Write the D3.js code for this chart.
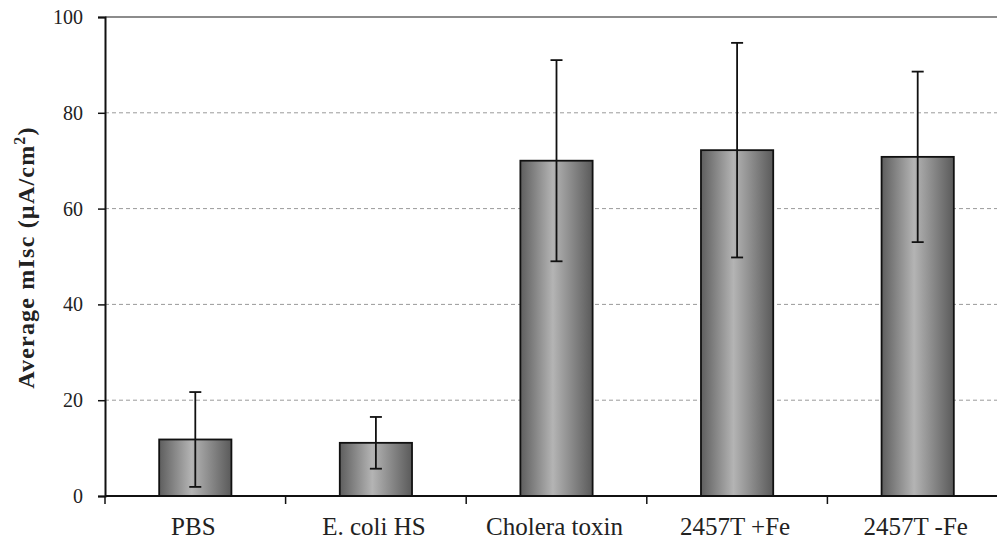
<!DOCTYPE html>
<html>
<head>
<meta charset="utf-8">
<script src="https://cdn.jsdelivr.net/npm/d3@7"></script>
<style>
  body { margin: 0; background: #fff; }
  svg text { font-family: "Liberation Serif", "Times New Roman", serif; }
</style>
</head>
<body>
<div id="chart"></div>
<script>
const fig_width = 997
const fig_height = 540

// values
const categories = ["PBS", "E. coli HS", "Cholera toxin", "2457T +Fe", "2457T -Fe"]
const means = [11.8, 11.1, 70.0, 72.2, 70.8]
const errors = [9.9, 5.4, 21.0, 22.4, 17.8]
const y_ticks = [0, 20, 40, 60, 80, 100]

const margin = {left: 105, top: 17, bottom: 44}
const band = 180.6

let x = d3.scaleBand()
    .domain(categories)
    .range([margin.left, margin.left + band * categories.length])
    .paddingInner(0.6)
    .paddingOuter(0.3)

let y = d3.scaleLinear()
    .domain([0, 100])
    .range([fig_height - margin.bottom, margin.top])

let fig = d3.select("#chart")
    .append("svg")
    .attr("width", fig_width)
    .attr("height", fig_height)

// horizontal gradient for the bars: dark edges, light middle
let grad = fig.append("defs").append("linearGradient")
    .attr("id", "barfill")
    .attr("x1", "0%").attr("x2", "100%")
    .attr("y1", "0%").attr("y2", "0%")
grad.append("stop").attr("offset", "0%").attr("stop-color", "#5e5e5e")
grad.append("stop").attr("offset", "45%").attr("stop-color", "#b4b4b4")
grad.append("stop").attr("offset", "100%").attr("stop-color", "#5a5a5a")

// gridlines
fig.append("g")
    .selectAll("line")
    .data(y_ticks.filter(t => t > 0))
    .join("line")
    .attr("x1", margin.left)
    .attr("x2", fig_width)
    .attr("y1", d => y(d))
    .attr("y2", d => y(d))
    .attr("stroke", d => d === 100 ? "#8c8c8c" : "#9a9a9a")
    .attr("stroke-width", d => d === 100 ? 2 : 1)
    .attr("stroke-dasharray", d => d === 100 ? null : "4,3")

// bars
fig.append("g")
    .selectAll("rect")
    .data(categories)
    .join("rect")
    .attr("x", d => x(d))
    .attr("width", x.bandwidth())
    .attr("y", (d, i) => y(means[i]))
    .attr("height", (d, i) => y(0) - y(means[i]))
    .attr("fill", "url(#barfill)")
    .attr("stroke", "#111")
    .attr("stroke-width", 1.8)

// error bars
let eb = fig.append("g")
    .selectAll("g")
    .data(categories)
    .join("g")
    .attr("stroke", "#111")
    .attr("stroke-width", 1.8)
eb.append("line")
    .attr("x1", d => x(d) + x.bandwidth() / 2)
    .attr("x2", d => x(d) + x.bandwidth() / 2)
    .attr("y1", (d, i) => y(means[i] + errors[i]))
    .attr("y2", (d, i) => y(means[i] - errors[i]))
eb.selectAll("line.cap")
    .data((d, i) => [means[i] + errors[i], means[i] - errors[i]].map(v => ({c: d, v: v})))
    .join("line")
    .attr("class", "cap")
    .attr("x1", d => x(d.c) + x.bandwidth() / 2 - 6)
    .attr("x2", d => x(d.c) + x.bandwidth() / 2 + 6)
    .attr("y1", d => y(d.v))
    .attr("y2", d => y(d.v))

// y axis
let yAxis = fig.append("g")
    .attr("transform", `translate(${margin.left},0)`)
    .call(d3.axisLeft(y).tickValues(y_ticks).tickSize(7).tickPadding(15))
yAxis.select(".domain").attr("stroke", "#111").attr("stroke-width", 2)
yAxis.selectAll(".tick line").attr("stroke", "#111").attr("stroke-width", 1.5)
yAxis.selectAll("text")
    .attr("font-size", 20)
    .attr("fill", "#222")

// x axis: line with ticks at category boundaries
let xg = fig.append("g")
xg.append("line")
    .attr("x1", margin.left)
    .attr("x2", fig_width)
    .attr("y1", y(0))
    .attr("y2", y(0))
    .attr("stroke", "#111")
    .attr("stroke-width", 2)
xg.selectAll("line.xt")
    .data(d3.range(categories.length + 1))
    .join("line")
    .attr("class", "xt")
    .attr("x1", i => margin.left + i * band)
    .attr("x2", i => margin.left + i * band)
    .attr("y1", y(0))
    .attr("y2", y(0) + 8)
    .attr("stroke", "#111")
    .attr("stroke-width", 1.5)
xg.selectAll("text")
    .data(categories)
    .join("text")
    .attr("x", d => x(d) + x.bandwidth() / 2 - 2)
    .attr("y", y(0) + 39)
    .attr("text-anchor", "middle")
    .attr("font-size", 25)
    .attr("fill", "#222")
    .text(d => d)

// y axis title
let yt = fig.append("text")
    .attr("transform", `translate(34,${y(50) + 1}) rotate(-90)`)
    .attr("text-anchor", "middle")
    .attr("font-size", 24)
    .attr("font-weight", "bold")
    .attr("letter-spacing", 1.2)
    .attr("fill", "#222")
yt.append("tspan").text("Average mIsc (µA/cm")
yt.append("tspan").attr("dy", -9).attr("font-size", 16).text("2")
yt.append("tspan").attr("dy", 9).text(")")
</script>
</body>
</html>
